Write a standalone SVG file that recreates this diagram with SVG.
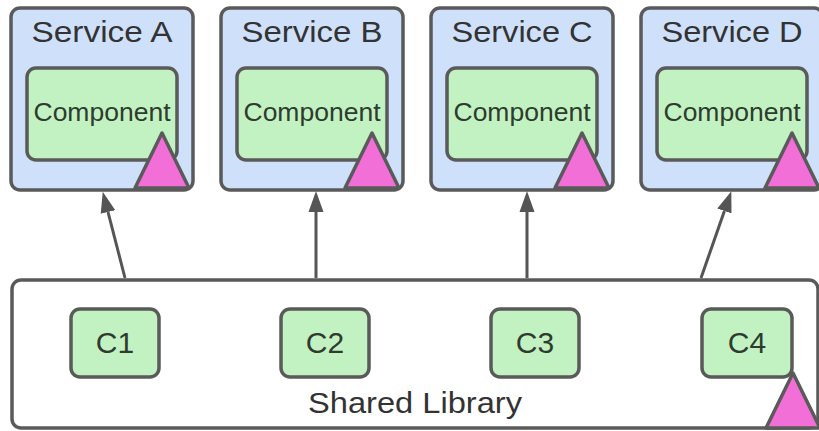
<svg xmlns="http://www.w3.org/2000/svg" width="819" height="431" viewBox="0 0 819 431">
  <style>
    .svc { fill: #cfe1fa; stroke: #5a5a5a; stroke-width: 3.5; }
    .comp { fill: #c2f2c2; stroke: #5a5a5a; stroke-width: 3.5; }
    .lib { fill: #ffffff; stroke: #5a5a5a; stroke-width: 3.5; }
    .tri { fill: #f26fd8; stroke: #5a5a5a; stroke-width: 3.5; stroke-linejoin: round; }
    .title { font-family: "Liberation Sans", Arial, sans-serif; font-size: 29px; fill: #333333; text-anchor: middle; }
    .ctext { font-family: "Liberation Sans", Arial, sans-serif; font-size: 26px; fill: #2e3b2e; text-anchor: middle; }
    .ctag { font-family: "Liberation Sans", Arial, sans-serif; font-size: 30px; fill: #2e3b2e; text-anchor: middle; }
    .edge { fill: none; stroke: #555555; stroke-width: 3; }
  </style>
  <defs>
    <marker id="arrow" markerUnits="userSpaceOnUse" markerWidth="22" markerHeight="16" viewBox="0 -8 22 16" refX="0" refY="0" orient="auto">
      <path d="M0,-7.5 L21,0 L0,7.5 z" fill="#555555"/>
    </marker>
  </defs>

  <!-- shared library container -->
  <g id="shared-library">
    <rect class="lib" x="12" y="280" width="806" height="148" rx="9"/>
    <text class="title" x="415" y="413" font-size="28" textLength="214" lengthAdjust="spacingAndGlyphs">Shared Library</text>
  </g>
  <g id="c1">
    <rect class="comp" x="71" y="309" width="88" height="68" rx="9"/>
    <text class="ctag" x="115" y="353">C1</text>
  </g>
  <g id="c2">
    <rect class="comp" x="281" y="309" width="88" height="68" rx="9"/>
    <text class="ctag" x="325" y="353">C2</text>
  </g>
  <g id="c3">
    <rect class="comp" x="491" y="309" width="88" height="68" rx="9"/>
    <text class="ctag" x="535" y="353">C3</text>
  </g>
  <g id="c4">
    <rect class="comp" x="702" y="309" width="90" height="68" rx="9"/>
    <text class="ctag" x="747" y="353">C4</text>
  </g>
  <polygon class="tri" points="793,373 766,428 820,428"/>

  <!-- services -->
  <g id="service-a">
    <rect class="svc" x="11" y="8" width="182" height="182" rx="9"/>
    <text class="title" x="102" y="42" textLength="141" lengthAdjust="spacingAndGlyphs">Service A</text>
    <rect class="comp" x="27" y="68" width="150" height="92" rx="9"/>
    <text class="ctext" x="102" y="121" textLength="137" lengthAdjust="spacingAndGlyphs">Component</text>
    <polygon class="tri" points="162,133 135,188 189,188"/>
  </g>
  <g id="service-b">
    <rect class="svc" x="221" y="8" width="182" height="182" rx="9"/>
    <text class="title" x="312" y="42" textLength="141" lengthAdjust="spacingAndGlyphs">Service B</text>
    <rect class="comp" x="237" y="68" width="150" height="92" rx="9"/>
    <text class="ctext" x="312" y="121" textLength="137" lengthAdjust="spacingAndGlyphs">Component</text>
    <polygon class="tri" points="372,133 345,188 399,188"/>
  </g>
  <g id="service-c">
    <rect class="svc" x="431" y="8" width="182" height="182" rx="9"/>
    <text class="title" x="522" y="42" textLength="141" lengthAdjust="spacingAndGlyphs">Service C</text>
    <rect class="comp" x="447" y="68" width="150" height="92" rx="9"/>
    <text class="ctext" x="522" y="121" textLength="137" lengthAdjust="spacingAndGlyphs">Component</text>
    <polygon class="tri" points="582,133 555,188 609,188"/>
  </g>
  <g id="service-d">
    <rect class="svc" x="641" y="8" width="182" height="182" rx="9"/>
    <text class="title" x="732" y="42" textLength="141" lengthAdjust="spacingAndGlyphs">Service D</text>
    <rect class="comp" x="657" y="68" width="150" height="92" rx="9"/>
    <text class="ctext" x="732" y="121" textLength="137" lengthAdjust="spacingAndGlyphs">Component</text>
    <polygon class="tri" points="792,133 765,188 819,188"/>
  </g>

  <!-- connectors: library up to each service -->
  <g id="connectors">
    <path class="edge" d="M125,278 L108,212" marker-end="url(#arrow)"/>
    <path class="edge" d="M316,278 L316,212" marker-end="url(#arrow)"/>
    <path class="edge" d="M527,278 L527,212" marker-end="url(#arrow)"/>
    <path class="edge" d="M701,278 L724.4,211" marker-end="url(#arrow)"/>
  </g>
</svg>
